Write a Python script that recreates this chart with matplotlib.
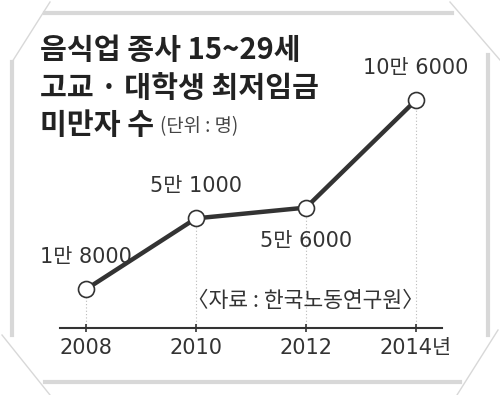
import matplotlib
matplotlib.use('Agg')
import matplotlib.pyplot as plt

years = [2008, 2010, 2012, 2014]
counts = [18000, 51000, 56000, 106000]
labels = ['1만 8000', '5만 1000', '5만 6000', '10만 6000']
ticklabels = ['2008', '2010', '2012', '2014년']

fam = ['DejaVu Sans', 'Noto Sans CJK KR']
tfam = ['Noto Sans CJK KR', 'DejaVu Sans']
plt.rcParams['font.family'] = fam

W, H = 500, 395
fig = plt.figure(figsize=(5, 3.95), dpi=100)
fig.patch.set_facecolor('white')

# paper-like frame
bg = fig.add_axes([0, 0, 1, 1])
bg.set_xlim(0, W)
bg.set_ylim(H, 0)
bg.axis('off')
edge = '#d8d8d8'
bg.plot([12, 12], [62, 335], color=edge, lw=3)
bg.plot([12, 50], [62, 2], color=edge, lw=1)
bg.plot([45, 452], [13, 13], color=edge, lw=3)
bg.plot([450, 500], [2, 60], color=edge, lw=1)
bg.plot([488, 488], [55, 335], color=edge, lw=3)
bg.plot([498, 457], [330, 395], color=edge, lw=1)
bg.plot([45, 460], [382, 382], color=edge, lw=3)
bg.plot([2, 50], [335, 395], color=edge, lw=1)

ax = fig.add_axes([60 / W, 1 - 328 / H, 382 / W, 288 / H])
ax.set_xlim(2008 - 26 / 55, 2014 + 26 / 55)
ax.set_ylim(0, 288 / 0.00215)
ax.patch.set_alpha(0)
for s in ['top', 'right', 'left']:
    ax.spines[s].set_visible(False)
ax.spines['bottom'].set_color('#333333')
ax.spines['bottom'].set_linewidth(1.5)
ax.set_yticks([])
ax.set_xticks(years)
ax.set_xticklabels(ticklabels, fontsize=15, color='#333333')
ax.tick_params(axis='x', direction='inout', length=6, width=1.2, color='#333333', pad=4)

for x, y in zip(years, counts):
    ax.plot([x, x], [0, y], color='#bbbbbb', lw=0.8, ls=(0, (1, 2)), zorder=1)

ax.plot(years, counts, color='#333333', lw=3.2, marker='o', markersize=11.5,
        markerfacecolor='white', markeredgecolor='#333333', markeredgewidth=1.2, zorder=3,
        clip_on=False)

offs = [(0, 23), (0, 23), (0, -24), (0, 23)]
for x, y, t, o in zip(years, counts, labels, offs):
    ax.annotate(t, (x, y), xytext=o, textcoords='offset points', ha='center', va='center',
                fontsize=15, color='#333333')

ax.text(2011.98, 12600, '〈자료 : 한국노동연구원〉', ha='center', va='center', fontsize=15.5,
        color='#333333', family=tfam)

fig.text(40 / W, 1 - 50 / H, '음식업 종사 15~29세', fontsize=21, weight='bold', color='#222222',
         va='center', family=tfam)
fig.text(40 / W, 1 - 88 / H, '고교 · 대학생 최저임금', fontsize=21, weight='bold', color='#222222',
         va='center', family=tfam)
fig.text(40 / W, 1 - 125 / H, '미만자 수', fontsize=21, weight='bold', color='#222222',
         va='center', family=tfam)
fig.text(160 / W, 1 - 127 / H, '(단위 : 명)', fontsize=13.5, color='#444444', va='center',
         family=tfam)

fig.savefig('out.png', dpi=100, facecolor='white')
